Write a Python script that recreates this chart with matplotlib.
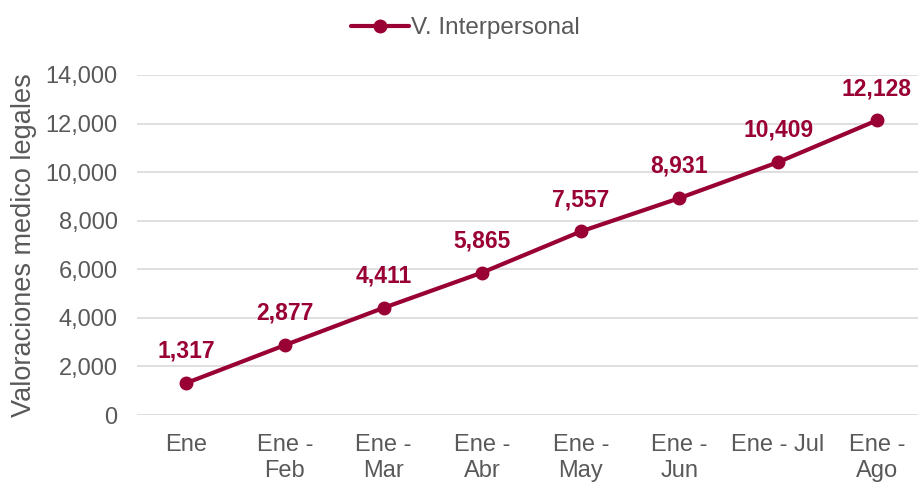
import matplotlib
matplotlib.use('Agg')
import matplotlib.pyplot as plt
from matplotlib.ticker import FuncFormatter

plt.rcParams['font.family'] = ['Liberation Sans', 'DejaVu Sans']

periods = ['Ene', 'Ene -\nFeb', 'Ene -\nMar', 'Ene -\nAbr', 'Ene -\nMay',
           'Ene -\nJun', 'Ene - Jul', 'Ene -\nAgo']
valores = [1317, 2877, 4411, 5865, 7557, 8931, 10409, 12128]
serie = 'V. Interpersonal'

red = '#990033'
grey = '#595959'

fig = plt.figure(figsize=(9.18, 4.83), dpi=100)
ax = fig.add_axes([137 / 918, 68 / 483, 789 / 918, 340 / 483])

x = list(range(len(periods)))
ax.plot(x, valores, color=red, lw=3, marker='o', ms=9, label=serie,
        solid_capstyle='round', zorder=3)

for xi, v in zip(x, valores):
    ax.annotate(f'{v:,}', (xi, v), xytext=(0, 23), textcoords='offset points',
                ha='center', va='center', fontsize=16.5, fontweight='bold',
                color=red)

ax.set_xlim(-0.5, 7.5)
ax.set_ylim(0, 14000)
ax.set_yticks(range(0, 14001, 2000))
ax.yaxis.set_major_formatter(FuncFormatter(lambda v, p: f'{int(v):,}'))
ax.set_xticks(x)
ax.set_xticklabels(periods, linespacing=1.25)
ax.tick_params(axis='both', length=0, labelsize=17, colors=grey)
ax.tick_params(axis='x', pad=13.5)
ax.tick_params(axis='y', pad=14)

ax.grid(axis='y', color='#d9d9d9', lw=1.2)
ax.set_axisbelow(True)
for sp in ax.spines.values():
    sp.set_visible(False)

ax.set_ylabel('Valoraciones medico legales', fontsize=19.5, color=grey, labelpad=6)

fig.legend(loc='upper center', bbox_to_anchor=(0.507, 1.01), frameon=False,
           fontsize=17.5, labelcolor=grey, handlelength=2.4, handletextpad=0.1)

fig.savefig('out.png', dpi=100)
